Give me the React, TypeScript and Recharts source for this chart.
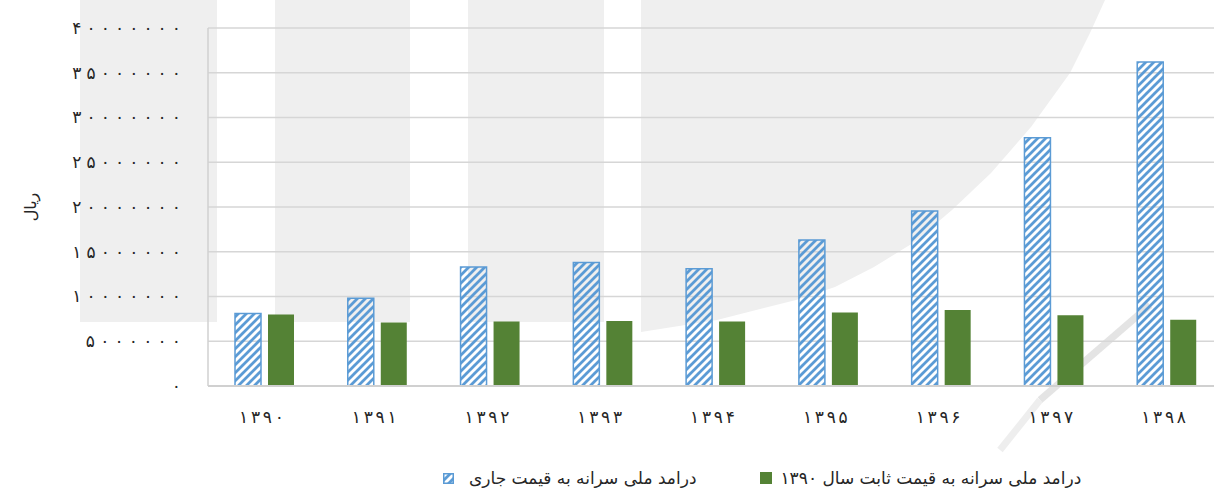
import React from "react";
import { BarChart, Bar, XAxis, YAxis, CartesianGrid, Legend } from "recharts";

const years = ["1390", "1391", "1392", "1393", "1394", "1395", "1396", "1397", "1398"];
const currentPrice = [8100000, 9800000, 13300000, 13800000, 13100000, 16300000, 19550000, 27750000, 36200000];
const constantPrice = [8000000, 7100000, 7200000, 7250000, 7200000, 8200000, 8500000, 7900000, 7400000];
const yTicks = [0, 5000000, 10000000, 15000000, 20000000, 25000000, 30000000, 35000000, 40000000];

const currentName = "درامد ملی سرانه به قیمت جاری";
const constantName = "درامد ملی سرانه به قیمت ثابت سال ۱۳۹۰";
const unitLabel = "ریال";

const BLUE = "#5B9BD5";
const GREEN = "#548235";
const TEXT = "#262626";
const FONT = "'DejaVu Sans', sans-serif";

const data = years.map((y, i) => ({
  year: y,
  current: currentPrice[i],
  constant: constantPrice[i],
}));

const toPersian = (v: string | number) =>
  String(v).replace(/\d/g, (d) => "۰۱۲۳۴۵۶۷۸۹"[Number(d)]);

// chrome ignores letter-spacing on arabic digits, so stretch with textLength
const YTick = ({ x, y, payload }: any) => {
  const s = toPersian(payload.value);
  return (
    <text
      x={x - 1}
      y={y}
      dy="0.35em"
      textAnchor="end"
      fill={TEXT}
      fontSize={17}
      fontFamily={FONT}
      textLength={s.length > 1 ? s.length * 13.6 : undefined}
      lengthAdjust="spacing"
    >
      {s}
    </text>
  );
};

const XTick = ({ x, y, payload }: any) => {
  const s = toPersian(payload.value);
  return (
    <text
      x={x - 3}
      y={y}
      dy="0.71em"
      textAnchor="middle"
      fill={TEXT}
      fontSize={17}
      fontFamily={FONT}
      textLength={s.length * 11.2}
      lengthAdjust="spacing"
    >
      {s}
    </text>
  );
};

// light grey logo sitting behind the plot
const Watermark = () => (
  <svg width={1214} height={491} style={{ position: "absolute", left: 0, top: 0 }}>
    <g fill="#efefef">
      <rect x={80} y={0} width={137} height={322} />
      <rect x={275} y={0} width={135} height={322} />
      <rect x={468} y={0} width={136} height={322} />
      <path d="M641,0 L1105,0 L1090,33 L1070,73 L1031,127 L991,173 L952,210 L913,243 L874,267 L835,287 L796,300 L717,320 L641,332 Z" />
    </g>
    <line x1={1150} y1={305} x2={1040} y2={400} stroke="#e4e4e4" strokeWidth={7} />
    <line x1={1040} y1={400} x2={1000} y2={450} stroke="#eeeeee" strokeWidth={7} />
  </svg>
);

const LegendContent = () => (
  <div
    style={{
      display: "flex",
      alignItems: "center",
      paddingLeft: 443,
      height: 20,
      fontFamily: FONT,
      fontSize: 17,
      color: TEXT,
      whiteSpace: "nowrap",
    }}
  >
    <svg width={11} height={11} style={{ marginRight: 15 }}>
      <rect x={0.75} y={0.75} width={9.5} height={9.5} fill="url(#hatchBlue)" stroke={BLUE} strokeWidth={1.5} />
    </svg>
    <span style={{ direction: "rtl", marginRight: 64 }}>{currentName}</span>
    <svg width={12} height={12} style={{ marginRight: 8 }}>
      <rect x={0} y={0} width={12} height={12} fill={GREEN} />
    </svg>
    <span style={{ direction: "rtl" }}>{constantName}</span>
  </div>
);

export default function App() {
  return (
    <div
      style={{
        position: "absolute",
        left: 0,
        top: 0,
        width: 1214,
        height: 491,
        background: "#fff",
        overflow: "hidden",
      }}
    >
      <Watermark />
      <div style={{ position: "absolute", left: 0, top: 0 }}>
        <BarChart
          width={1223}
          height={491}
          data={data}
          margin={{ top: 28, right: 0, left: 0, bottom: 3 }}
          barGap={7}
          barCategoryGap={27}
        >
          <defs>
            <pattern id="hatchBlue" patternUnits="userSpaceOnUse" width={8} height={8}>
              <path d="M-2,2 L2,-2 M0,8 L8,0 M6,10 L10,6" stroke={BLUE} strokeWidth={2.8} />
            </pattern>
          </defs>
          <CartesianGrid vertical={false} stroke="#d6d6d6" strokeWidth={1.5} />
          <XAxis
            dataKey="year"
            height={82}
            tickLine={false}
            axisLine={{ stroke: "#d0d0d0", strokeWidth: 2 }}
            tickMargin={19}
            tick={<XTick />}
          />
          <YAxis
            width={208}
            domain={[0, 40000000]}
            ticks={yTicks}
            interval={0}
            tickLine={false}
            axisLine={{ stroke: "#d0d0d0", strokeWidth: 1.5 }}
            tickMargin={20}
            tick={<YTick />}
            label={{
              value: unitLabel,
              angle: -90,
              position: "insideLeft",
              offset: 30,
              style: { textAnchor: "middle", fill: TEXT, fontSize: 16, fontFamily: FONT },
            }}
          />
          <Legend verticalAlign="bottom" height={20} content={<LegendContent />} />
          <Bar
            dataKey="current"
            name={currentName}
            barSize={26}
            fill="url(#hatchBlue)"
            stroke={BLUE}
            strokeWidth={1.5}
            isAnimationActive={false}
          />
          <Bar dataKey="constant" name={constantName} barSize={26} fill={GREEN} isAnimationActive={false} />
        </BarChart>
      </div>
    </div>
  );
}
